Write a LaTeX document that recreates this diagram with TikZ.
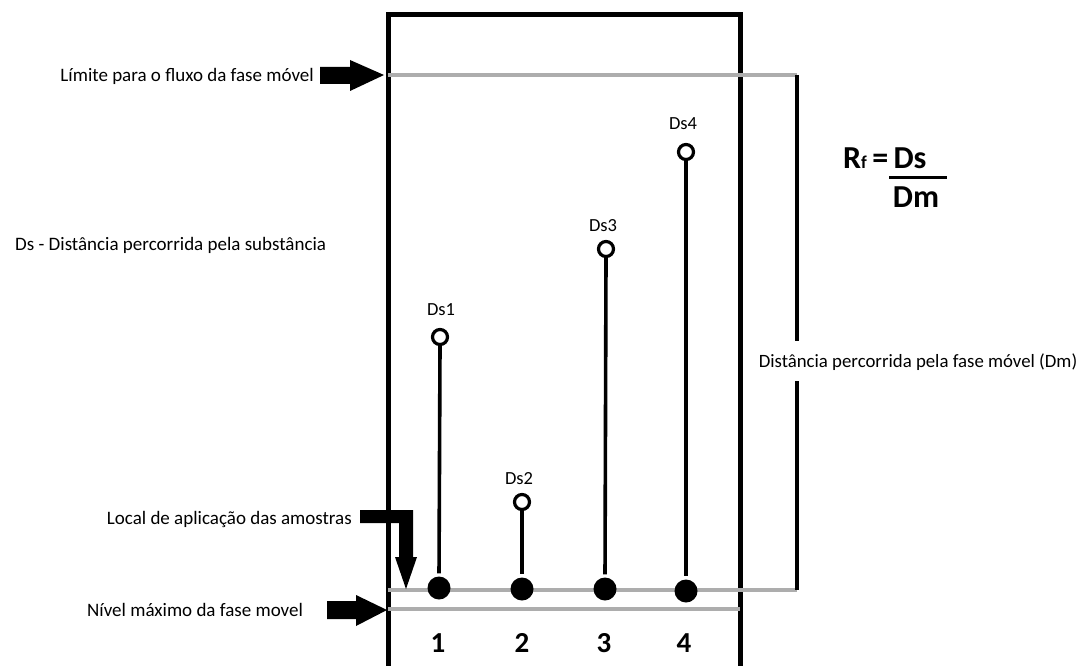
\documentclass[tikz,border=0pt]{standalone}
\usepackage{fontspec}
\setmainfont{Carlito}
\begin{document}
\begin{tikzpicture}[x=1pt,y=-1pt,
  lbl/.style={inner sep=0pt, font=\fontsize{19}{22}\selectfont},
  dslbl/.style={inner sep=0pt, font=\fontsize{18.5}{20}\selectfont},
  num/.style={inner sep=0pt, font=\fontsize{29}{32}\selectfont\bfseries},
  frm/.style={inner sep=0pt, font=\fontsize{32}{34}\selectfont\bfseries},
  gline/.style={draw=black!32, line width=3.5pt},
  stem/.style={line width=3.6pt, shorten >=3pt},
  spot/.style={circle, fill=black, minimum size=23pt, inner sep=0pt},
  hole/.style={circle, draw=black, line width=3.2pt, fill=white, minimum size=15pt, inner sep=0pt},
  bigarrow/.style={fill=black}]
\useasboundingbox (0,0) rectangle (1086,666);
% plate
\draw[line width=5pt] (388,690) -- (388,15) -- (740,15) -- (740,690);
% gray lines
\coordinate (topL) at (388,75);
\coordinate (brTop) at (797,75);
\coordinate (botL) at (388,590);
\coordinate (brBot) at (797,590);
\draw[gline] (topL) -- (brTop);
\draw[gline] (botL) -- (brBot);
\draw[gline] (388,609) -- (740,609);
% bracket
\node[lbl, font=\fontsize{18.8}{20}\selectfont] (dm) at (918,362) {Distância percorrida pela fase móvel (Dm)};
\draw[line width=3.8pt] (brTop) -- (797,341);
\draw[line width=3.8pt] (797,381) -- (brBot);
% dots
\node[spot] (d1) at (439,588) {};
\node[spot] (d2) at (522,589) {};
\node[spot] (d3) at (605,589) {};
\node[spot] (d4) at (686,591) {};
% holes
\node[hole] (h1) at (440,337) {};
\node[hole] (h2) at (522,502) {};
\node[hole] (h3) at (606,249) {};
\node[hole] (h4) at (686,152) {};
\draw[stem] (h1.south) -- (d1.north);
\draw[stem] (h2.south) -- (d2.north);
\draw[stem] (h3.south) -- (d3.north);
\draw[stem] (h4.south) -- (d4.north);
% ds labels
\node[dslbl] (l1) at (441,310) {Ds1};
\node[dslbl] (l2) at (519,479) {Ds2};
\node[dslbl] (l3) at (603,226) {Ds3};
\node[dslbl] (l4) at (683,124) {Ds4};
% numbers
\node[num] (n1) at (438,643) {1};
\node[num] (n2) at (522,643) {2};
\node[num] (n3) at (604,643) {3};
\node[num] (n4) at (684,643) {4};
% left texts
\node[lbl, anchor=east] (t1) at (314,76) {Límite para o fluxo da fase móvel};
\node[lbl, anchor=west] (t2) at (15,245) {Ds - Distância percorrida pela substância};
\node[lbl, anchor=east] (t3) at (352,519) {Local de aplicação das amostras};
\node[lbl, anchor=west] (t4) at (87,610) {Nível máximo da fase movel};
% big arrows
\fill[bigarrow] (320,67) -- (350,67) -- (350,60) -- (384,75) -- (350,91) -- (350,84) -- (320,84) -- cycle;
\fill[bigarrow] (327,601) -- (356,601) -- (356,595) -- (387,610) -- (356,626) -- (356,619) -- (327,619) -- cycle;
\fill[bigarrow] (360,510) -- (413,510) -- (413,557) -- (417,557) -- (406,589) -- (395,557) -- (399,557) -- (399,523) -- (360,523) -- cycle;
% formula
\node[frm, anchor=west] (rf) at (843,158) {R{\fontsize{18}{19}\selectfont f}\,=\,Ds};
\draw[line width=3pt] (889,177) -- (947,177);
\node[frm] (den) at (916,197) {Dm};
\end{tikzpicture}
\end{document}
